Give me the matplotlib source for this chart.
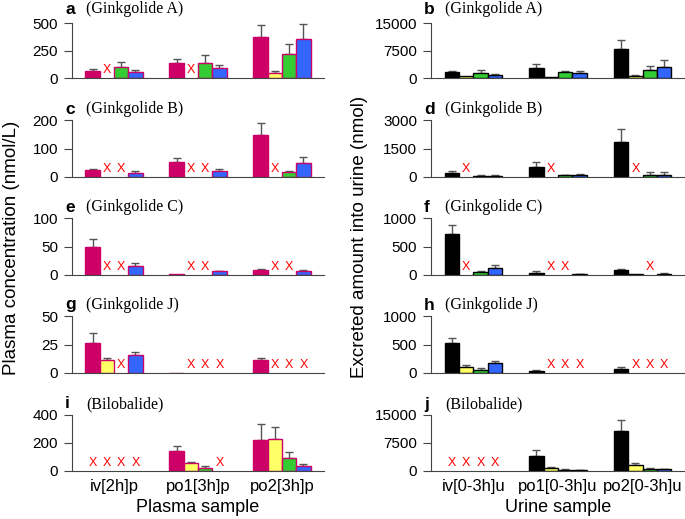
import numpy as np
import matplotlib
matplotlib.use("Agg")
import matplotlib.pyplot as plt

plt.rcParams['font.family'] = ['Liberation Sans', 'DejaVu Sans']

# Sample groups
plasma_groups = ["iv[2h]p", "po1[3h]p", "po2[3h]p"]
urine_groups = ["iv[0-3h]u", "po1[0-3h]u", "po2[0-3h]u"]
compounds = ["Ginkgolide A", "Ginkgolide B", "Ginkgolide C", "Ginkgolide J", "Bilobalide"]
plasma_letters = ["a", "c", "e", "g", "i"]
urine_letters = ["b", "d", "f", "h", "j"]

N = None  # not detected -> red X

# Plasma concentration (nmol/L): [group][series], series = 4 bars per group
plasma_A = [[66, N, 96, 54], [138, N, 132, 90], [377, 45, 219, 356]]
plasma_A_sd = [[15, 0, 48, 18], [33, 0, 75, 27], [105, 21, 89, 135]]
plasma_B = [[23.5, N, N, 13], [54, N, N, 22], [148, N, 16.5, 48]]
plasma_B_sd = [[5.5, 0, 0, 7], [11, 0, 0, 7], [40, 0, 5.5, 21]]
plasma_C = [[49, N, N, 16.5], [1.8, N, N, 6.5], [8.2, N, N, 7.6]]
plasma_C_sd = [[14, 0, 0, 4], [0, 0, 0, 1.1], [2.4, 0, 0, 1.8]]
plasma_J = [[26.5, 11.5, N, 16.2], [0.3, N, N, N], [11.2, N, N, N]]
plasma_J_sd = [[9, 2, 0, 2.6], [0, 0, 0, 0], [1.7, 0, 0, 0]]
plasma_BB = [[N, N, N, N], [145, 55, 21, N], [224, 226, 95, 36]]
plasma_BB_sd = [[0, 0, 0, 0], [31, 12, 12, 0], [114, 88, 38, 12]]

# Urinary excretion (nmol)
urine_A = [[1600, 450, 1440, 900], [2790, 360, 1530, 1350], [7900, 630, 2160, 2960]]
urine_A_sd = [[380, 0, 630, 270], [980, 0, 450, 540], [2430, 170, 1160, 1980]]
urine_B = [[230, N, 53, 53], [547, N, 88, 106], [1817, N, 123, 106]]
urine_B_sd = [[105, 0, 35, 35], [264, 0, 35, 53], [688, 0, 124, 141]]
urine_C = [[712, N, 53, 130], [41, N, N, 12], [82, 12, N, 24]]
urine_C_sd = [[158, 0, 23, 40], [24, 0, 0, 6], [24, 0, 0, 6]]
urine_J = [[535, 106, 59, 182], [35, N, N, N], [76, N, N, N]]
urine_J_sd = [[83, 41, 29, 30], [24, 0, 0, 0], [36, 0, 0, 0]]
urine_BB = [[N, N, N, N], [3930, 800, 357, 268], [10625, 1518, 625, 536]]
urine_BB_sd = [[0, 0, 0, 0], [1606, 180, 89, 44], [3125, 536, 179, 89]]

plasma_data = [(plasma_A, plasma_A_sd), (plasma_B, plasma_B_sd), (plasma_C, plasma_C_sd),
               (plasma_J, plasma_J_sd), (plasma_BB, plasma_BB_sd)]
urine_data = [(urine_A, urine_A_sd), (urine_B, urine_B_sd), (urine_C, urine_C_sd),
              (urine_J, urine_J_sd), (urine_BB, urine_BB_sd)]

plasma_ticks = [[0, 250, 500], [0, 100, 200], [0, 50, 100], [0, 25, 50], [0, 200, 400]]
urine_ticks = [[0, 7500, 15000], [0, 1500, 3000], [0, 500, 1000], [0, 500, 1000], [0, 7500, 15000]]

plasma_colors = ["#CC0066", "#FFFF66", "#33CC33", "#3366FF"]
urine_colors = ["#000000", "#FFFF66", "#33CC33", "#3366FF"]

W, H = 685, 519
fig = plt.figure(figsize=(W / 100, H / 100), dpi=100)

# panel geometry in pixels: (top of axis, zero line)
rows = [(23, 78), (120, 177), (218, 275), (316, 373), (415, 471)]
cols = [(72, 324), (431, 685)]
bw = 0.17
offsets = (np.arange(4) - 1.5) * bw


def draw_panel(ax, data, sd, ticks, colors, edge):
    for g in range(3):
        for s in range(4):
            v = data[g][s]
            x = g + offsets[s]
            if v is None:
                ax.text(x, 0.14, "X", transform=ax.get_xaxis_transform(), color="red",
                        fontsize=9, ha="center", va="center")
                continue
            ax.bar(x, v, width=bw, color=colors[s], edgecolor=edge, linewidth=1, zorder=2)
            if sd[g][s] > 0:
                ax.errorbar(x, v, yerr=[[0], [sd[g][s]]], fmt="none", ecolor="#555555",
                            elinewidth=1, capsize=3, capthick=1, zorder=1)
    ax.set_xlim(-0.5, 2.5)
    ax.set_ylim(0, ticks[-1])
    ax.set_yticks(ticks)
    ax.spines["top"].set_visible(False)
    ax.spines["right"].set_visible(False)
    for sp in ["left", "bottom"]:
        ax.spines[sp].set_color("#444444")
    ax.spines["left"].set_bounds(0, ticks[-1])
    ax.tick_params(axis="y", length=6, color="#444444", labelsize=11, pad=4)
    ax.tick_params(axis="x", length=0, labelsize=12, pad=6)


for ci, (data_list, ticks_list, letters, colors, edge, groups) in enumerate([
        (plasma_data, plasma_ticks, plasma_letters, plasma_colors, "#CC0066", plasma_groups),
        (urine_data, urine_ticks, urine_letters, urine_colors, "#000000", urine_groups)]):
    x0, x1 = cols[ci]
    for ri, (top, bot) in enumerate(rows):
        ax = fig.add_axes([x0 / W, 1 - bot / H, (x1 - x0) / W, (bot - top) / H])
        data, sd = data_list[ri]
        draw_panel(ax, data, sd, ticks_list[ri], colors, edge)
        if ri == 4:
            ax.set_xticks(range(3))
            ax.set_xticklabels(groups)
        else:
            ax.set_xticks([])
        ty = top - (14 if ri == 0 else 11)
        fig.text((x0 - 7) / W, 1 - ty / H, letters[ri], fontsize=12.5, fontweight="bold",
                 ha="left", va="center")
        fig.text((x0 + 14) / W, 1 - ty / H, "(" + compounds[ri] + ")", fontsize=11.5,
                 family="Liberation Serif", ha="left", va="center")

fig.text(12 / W, 1 - 248 / H, "Plasma concentration (nmol/L)", rotation=90,
         fontsize=13.5, ha="center", va="center")
fig.text(360 / W, 1 - 237 / H, "Excreted amount into urine (nmol)", rotation=90,
         fontsize=13.5, ha="center", va="center")
fig.text(198 / W, 1 - 508 / H, "Plasma sample", fontsize=13, ha="center", va="center")
fig.text(558 / W, 1 - 508 / H, "Urine sample", fontsize=13, ha="center", va="center")

fig.savefig("out.png", dpi=100)
